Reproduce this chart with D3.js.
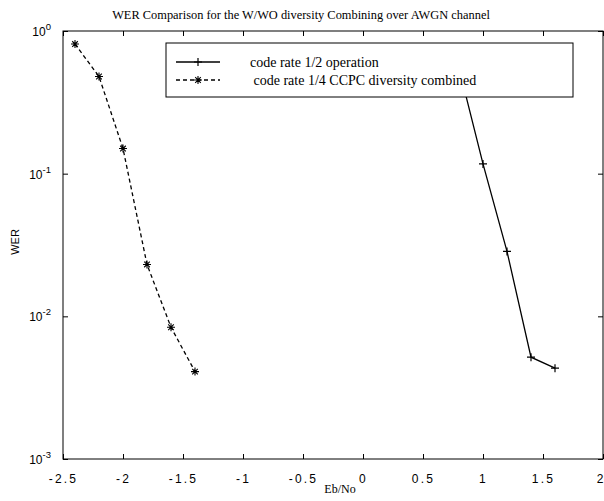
<!DOCTYPE html>
<html><head><meta charset="utf-8">
<script src="https://cdn.jsdelivr.net/npm/d3@7"></script>
<style>body{margin:0;background:#fff}svg{display:block}</style>
</head><body>
<script>
const titleText = "WER Comparison for the W/WO diversity Combining over AWGN channel";
const xLabel = "Eb/No";
const yLabel = "WER";
const seriesNames = ["code rate 1/2 operation", " code rate 1/4 CCPC diversity combined"];
const xTicks = [-2.5, -2, -1.5, -1, -0.5, 0, 0.5, 1, 1.5, 2];
const xTickLabels = ["-2.5", "-2", "-1.5", "-1", "-0.5", "0", "0.5", "1", "1.5", "2"];
const yTicks = [1, 0.1, 0.01, 0.001];
const yTickExp = ["0", "-1", "-2", "-3"];
const rateHalfX = [0.8, 1.0, 1.2, 1.4, 1.6];
const rateHalfY = [0.55, 0.117, 0.0285, 0.00517, 0.00433];
const ccpcX = [-2.4, -2.2, -2.0, -1.8, -1.6, -1.4];
const ccpcY = [0.81, 0.48, 0.15, 0.0231, 0.00838, 0.0041];

const W = 604, H = 501;
const L = 63, R = 603, T = 31, B = 459;
const svg = d3.select("body").append("svg").attr("width", W).attr("height", H);
const x = d3.scaleLinear().domain([-2.5, 2]).range([L, R]);
const y = d3.scaleLog().domain([0.001, 1]).range([B, T]);

svg.append("rect").attr("x", L).attr("y", T).attr("width", R - L).attr("height", B - T)
  .attr("fill", "none").attr("stroke", "#000").attr("stroke-width", 1);

const xAxisB = d3.axisBottom(x).tickValues(xTicks).tickSizeInner(-5).tickSizeOuter(0)
  .tickFormat((d, i) => xTickLabels[i]).tickPadding(15);
const gb = svg.append("g").attr("transform", `translate(0,${B})`).call(xAxisB);
gb.select(".domain").remove();
gb.selectAll("text").attr("font-family", "Liberation Sans, Arial, sans-serif").attr("font-size", 12)
  .attr("letter-spacing", "2.2px").attr("fill", "#000");
gb.selectAll(".tick").filter(d => d === 2).select("text").attr("text-anchor", "end").attr("x", 2);

const xAxisT = d3.axisTop(x).tickValues(xTicks).tickSizeInner(-5).tickSizeOuter(0).tickFormat("");
const gt = svg.append("g").attr("transform", `translate(0,${T})`).call(xAxisT);
gt.select(".domain").remove();

const yAxisL = d3.axisLeft(y).tickValues(yTicks).tickSizeInner(-5).tickSizeOuter(0).tickFormat("");
const gl = svg.append("g").attr("transform", `translate(${L},0)`).call(yAxisL);
gl.select(".domain").remove();
const yAxisR = d3.axisRight(y).tickValues(yTicks).tickSizeInner(-5).tickSizeOuter(0).tickFormat("");
const gr = svg.append("g").attr("transform", `translate(${R},0)`).call(yAxisR);
gr.select(".domain").remove();

yTicks.forEach((v, i) => {
  const t = svg.append("text").attr("x", L - 12).attr("y", y(v) + 5)
    .attr("text-anchor", "end").attr("font-family", "Liberation Sans, Arial, sans-serif")
    .attr("font-size", 12).attr("fill", "#000");
  t.append("tspan").text("10");
  t.append("tspan").attr("dy", -6).attr("font-size", 9.5).text(yTickExp[i]);
});

svg.append("text").attr("x", 301).attr("y", 19).attr("text-anchor", "middle")
  .attr("font-family", "Liberation Serif, Times New Roman, serif").attr("font-size", 12.4)
  .attr("fill", "#000").text(titleText);
svg.append("text").attr("x", 340).attr("y", 493).attr("text-anchor", "middle")
  .attr("font-family", "Liberation Serif, Times New Roman, serif").attr("font-size", 12)
  .attr("fill", "#000").text(xLabel);
svg.append("text").attr("transform", `translate(19,242) rotate(-90)`).attr("text-anchor", "middle")
  .attr("font-family", "Liberation Sans, Arial, sans-serif").attr("font-size", 11)
  .attr("fill", "#000").text(yLabel);

const line = d3.line().x(d => x(d[0])).y(d => y(d[1]));
const halfData = rateHalfX.map((v, i) => [v, rateHalfY[i]]);
const ccpcData = ccpcX.map((v, i) => [v, ccpcY[i]]);

const plot = svg.append("g");
plot.append("path").datum(halfData).attr("d", line).attr("fill", "none")
  .attr("stroke", "#000").attr("stroke-width", 1.3);
plot.append("path").datum(ccpcData).attr("d", line).attr("fill", "none")
  .attr("stroke", "#000").attr("stroke-width", 1.3).attr("stroke-dasharray", "4,3");

function plus(g, cx, cy, r) {
  g.append("path").attr("d", `M${cx - r},${cy}H${cx + r}M${cx},${cy - r}V${cy + r}`)
    .attr("stroke", "#000").attr("stroke-width", 1.2).attr("fill", "none");
}
function star(g, cx, cy, r) {
  const d = r * 0.7;
  g.append("path").attr("d", `M${cx - r},${cy}H${cx + r}M${cx},${cy - r}V${cy + r}M${cx - d},${cy - d}L${cx + d},${cy + d}M${cx - d},${cy + d}L${cx + d},${cy - d}`)
    .attr("stroke", "#000").attr("stroke-width", 1.1).attr("fill", "none");
}
halfData.forEach(d => plus(plot, x(d[0]), y(d[1]), 4));
ccpcData.forEach(d => star(plot, x(d[0]), y(d[1]), 4));

const lg = svg.append("g");
lg.append("rect").attr("x", 166).attr("y", 43).attr("width", 407).attr("height", 54)
  .attr("fill", "#fff").attr("stroke", "#000").attr("stroke-width", 1);
const rows = [62, 80];
lg.append("line").attr("x1", 176).attr("x2", 220).attr("y1", rows[0]).attr("y2", rows[0])
  .attr("stroke", "#000").attr("stroke-width", 1.3);
plus(lg, 198, rows[0], 4);
lg.append("line").attr("x1", 176).attr("x2", 220).attr("y1", rows[1]).attr("y2", rows[1])
  .attr("stroke", "#000").attr("stroke-width", 1.3).attr("stroke-dasharray", "4,3");
star(lg, 198, rows[1], 4);
seriesNames.forEach((s, i) => {
  lg.append("text").attr("x", 250).attr("y", rows[i] + 5).attr("xml:space", "preserve")
    .style("white-space", "pre")
    .attr("font-family", "Liberation Serif, Times New Roman, serif").attr("font-size", 14)
    .attr("fill", "#000").text(s);
});
</script>
</body></html>
